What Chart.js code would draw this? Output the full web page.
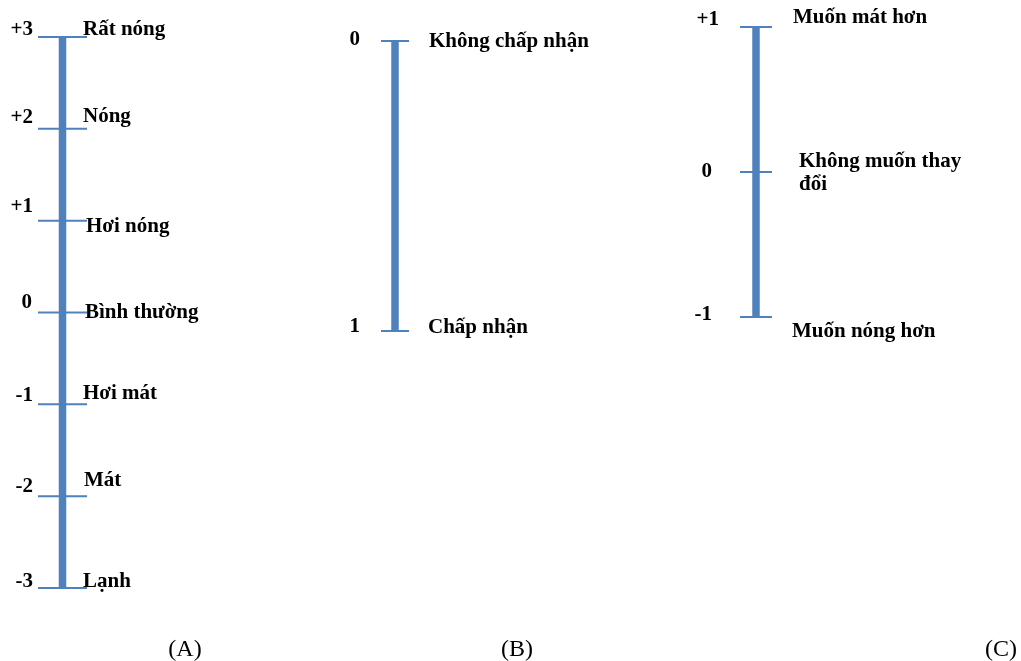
<!DOCTYPE html>
<html>
<head>
<meta charset="utf-8">
<script src="https://cdn.jsdelivr.net/npm/chart.js@4"></script>
<style>
  html, body { margin: 0; padding: 0; background: #fff; }
  #wrap { position: relative; width: 1021px; height: 661px; }
  #wrap canvas { position: absolute; left: 0; top: 0; }
  .cap { position: absolute; top: 633px; width: 60px; margin-left: -30px; text-align: center;
         font: 24px "Liberation Serif", serif; color: #000; line-height: 30px; }
</style>
</head>
<body>
<div id="wrap">
  <canvas id="chartA" width="1021" height="661"></canvas>
  <canvas id="chartB" width="1021" height="661"></canvas>
  <canvas id="chartC" width="1021" height="661"></canvas>
  <div class="cap" style="left:185px">(A)</div>
  <div class="cap" style="left:517px">(B)</div>
  <div class="cap" style="left:1001px">(C)</div>
</div>
<script>
// scale A: thermal sensation
const valuesA = [3, 2, 1, 0, -1, -2, -3];
const tickLabelsA = ["+3", "+2", "+1", "0", "-1", "-2", "-3"];
const categoriesA = ["Rất nóng", "Nóng", "Hơi nóng", "Bình thường", "Hơi mát", "Mát", "Lạnh"];

// scale B: acceptability
const valuesB = [0, 1];
const tickLabelsB = ["0", "1"];
const categoriesB = ["Không chấp nhận", "Chấp nhận"];

// scale C: preference
const valuesC = [1, 0, -1];
const tickLabelsC = ["+1", "0", "-1"];
const categoriesC = ["Muốn mát hơn", ["Không muốn thay", "đổi"], "Muốn nóng hơn"];

// label nudges (px), just layout
const numShiftA = [-7, -11, -14, -10, -9, -10, -6];
const numDxA = [0, 0, 0, -1, 0, 0, 0];
const textShiftA = [-7, -12, 6, 0, -11, -16, -6];
const textDxA = [0, 0, 3, 2, 0, 1, 0];
const numShiftB = [-1, -4];
const numDxB = [0, 0];
const textShiftB = [1, -3];
const textDxB = [0, -1];
const numShiftC = [-7, 0, -2];
const numDxC = [0, -7, -7];
const textShiftC = [-9, -10, 15];
const textDxC = [0, 6, -1];

const blue = "#4f81bd";
const boldFont = "bold 21px 'Liberation Serif', serif";

const labelPlugin = {
  id: "scaleLabels",
  afterDatasetsDraw(chart) {
    const o = chart.options.plugins.scaleLabels;
    const y = chart.scales.y;
    const area = chart.chartArea;
    const ctx = chart.ctx;
    ctx.save();
    ctx.font = boldFont;
    ctx.fillStyle = "#000";
    ctx.textBaseline = "middle";
    o.values.forEach((v, i) => {
      const py = y.getPixelForValue(v);
      ctx.textAlign = "right";
      ctx.fillText(o.ticks[i], area.left - o.numGap + o.numDx[i], py + o.numShift[i]);
      ctx.textAlign = "left";
      const lines = [].concat(o.texts[i]);
      lines.forEach((t, k) => {
        ctx.fillText(t, area.right + o.textGap + o.textDx[i], py + o.textShift[i] + k * 23);
      });
    });
    ctx.restore();
  }
};

function makeScale(id, values, ticks, texts, shifts, pad, gaps, reverse) {
  const lo = Math.min(...values), hi = Math.max(...values);
  const datasets = values.map(v => ({
    data: [{ x: -1, y: v }, { x: 1, y: v }],
    borderColor: blue,
    borderWidth: 2,
    pointRadius: 0,
    clip: false
  }));
  datasets.push({
    data: [{ x: 0, y: lo }, { x: 0, y: hi }],
    borderColor: blue,
    borderWidth: 7.5,
    pointRadius: 0,
    clip: false
  });
  return new Chart(document.getElementById(id), {
    type: "scatter",
    data: { datasets: datasets.map(d => Object.assign(d, { showLine: true })) },
    options: {
      responsive: false,
      animation: false,
      layout: { padding: pad },
      scales: {
        x: { display: false, min: -1, max: 1 },
        y: { display: false, min: lo, max: hi, reverse: reverse }
      },
      plugins: {
        legend: { display: false },
        tooltip: { enabled: false },
        scaleLabels: Object.assign({
          values: values, ticks: ticks, texts: texts,
          numGap: gaps[0], textGap: gaps[1]
        }, shifts)
      }
    },
    plugins: [labelPlugin]
  });
}

makeScale("chartA", valuesA, tickLabelsA, categoriesA,
  { numShift: numShiftA, numDx: numDxA, textShift: textShiftA, textDx: textDxA },
  { left: 38, right: 934, top: 37, bottom: 73 }, [5, -4], false);
makeScale("chartB", valuesB, tickLabelsB, categoriesB,
  { numShift: numShiftB, numDx: numDxB, textShift: textShiftB, textDx: textDxB },
  { left: 381, right: 612, top: 41, bottom: 330 }, [21, 20], true);
makeScale("chartC", valuesC, tickLabelsC, categoriesC,
  { numShift: numShiftC, numDx: numDxC, textShift: textShiftC, textDx: textDxC },
  { left: 740, right: 249, top: 27, bottom: 344 }, [21, 21], false);
</script>
</body>
</html>
